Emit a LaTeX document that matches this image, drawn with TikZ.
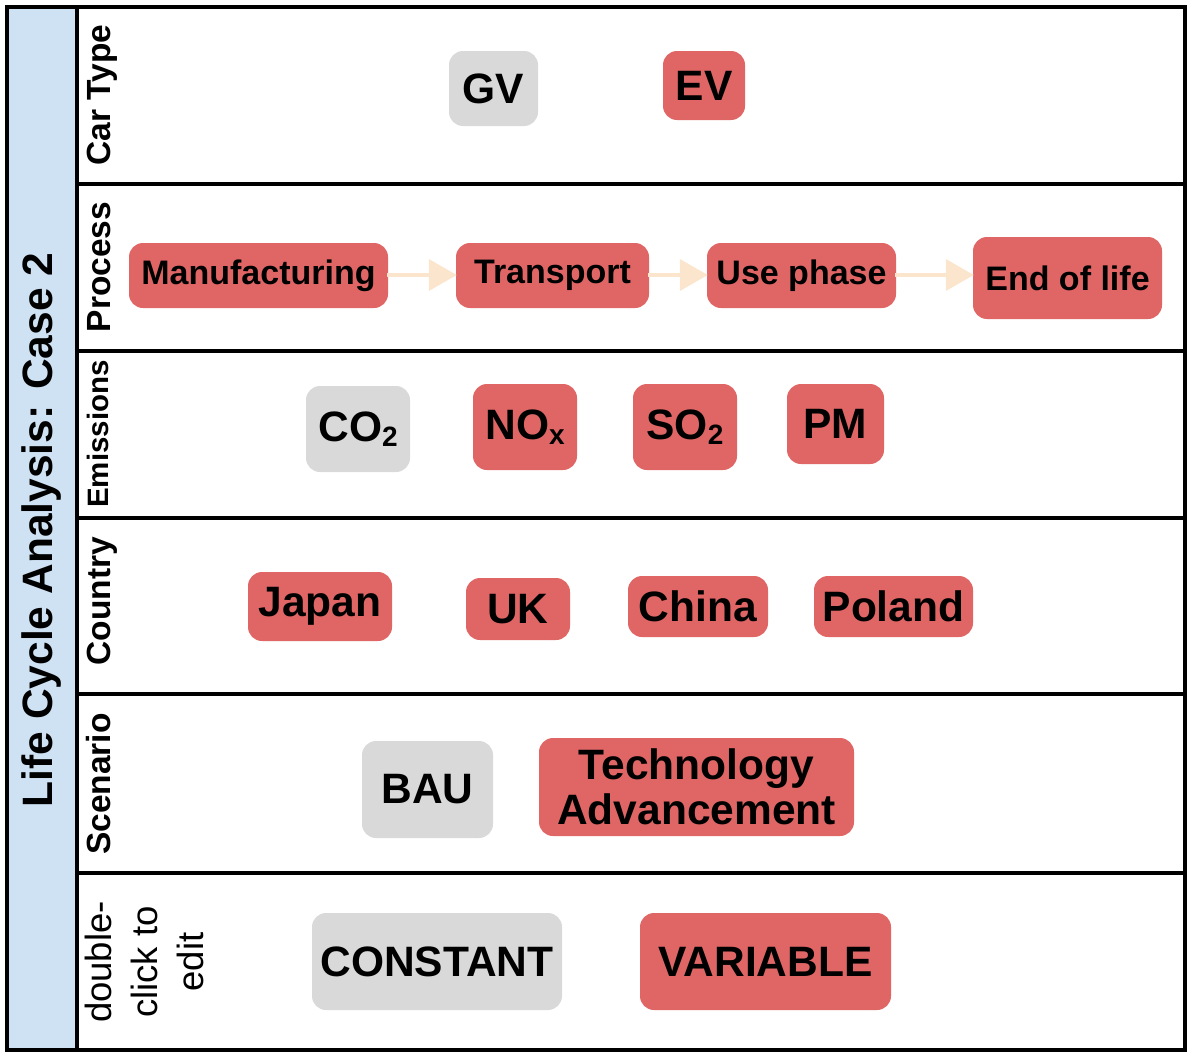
\documentclass[tikz,border=0pt]{standalone}
\usepackage{fontspec}
\setmainfont{Liberation Sans}
\usetikzlibrary{arrows.meta}
\definecolor{boxred}{HTML}{E06666}
\definecolor{boxgray}{HTML}{D9D9D9}
\definecolor{titleblue}{HTML}{CFE2F3}
\definecolor{flowpeach}{HTML}{FCE5CD}
\newcommand{\fs}[2]{\fontsize{#1}{#2}\selectfont}
\newcommand{\sub}[1]{{\fs{28}{28}\raisebox{-5pt}{#1}}}
\tikzset{
  x=1pt, y=-1pt,
  itembox/.style={rounded corners=14pt, inner sep=0pt, align=center},
  bigtext/.style={font=\fs{42.5}{45}\bfseries},
  steptext/.style={font=\fs{34}{34}\bfseries},
  redbox/.style={itembox, fill=boxred},
  graybox/.style={itembox, fill=boxgray},
  lanelabel/.style={rotate=90, anchor=base, inner sep=0pt, font=\fs{33.5}{33.5}\bfseries},
  flow/.style={flowpeach, line width=4pt, -{Triangle[length=28pt,width=31pt]}, shorten <=-1pt, shorten >=-1pt},
}
\newcommand{\itembox}[6]{% style, name, left, right, top, bottom, then the text
  \node[#1, minimum width={#4-#3}, minimum height={#6-#5}] (#2) at ({(#3+#4)/2},{(#5+#6)/2})}
\begin{document}
\begin{tikzpicture}
\useasboundingbox (0,0) rectangle (1187,1052);
% title column
\fill[titleblue] (7,7) rectangle (77,1050);
\node[rotate=90, anchor=base, inner sep=0pt, font=\fs{42.5}{42.5}\bfseries] (title) at (52,530) {Life Cycle Analysis: Case 2};
% lanes
\draw[line width=2pt, black!75] (1185,7) -- (1185,1050);
\draw[line width=4pt] (7,7) rectangle (1185,1050);
\draw[line width=4pt] (77,7) -- (77,1050);
\foreach \yy in {184,351,518,694,873}
  \draw[line width=3.5pt] (77,\yy) -- (1185,\yy);
% lane labels
\node[lanelabel] (lCar) at (110,95) {Car Type};
\node[lanelabel] (lProc) at (110,267) {Process};
\node[lanelabel, font=\fs{29.5}{29.5}\bfseries] (lEmis) at (108,434) {Emissions};
\node[lanelabel] (lCountry) at (110,601) {Country};
\node[lanelabel] (lScen) at (110,784) {Scenario};
\node[rotate=90, inner sep=0pt, align=center, font=\fs{36.5}{46}] (lEdit) at (144,962)
  {double-\\click to\\edit};
% car type
\itembox{graybox,bigtext}{gv}{449}{538}{51}{126} {GV};
\itembox{redbox,bigtext}{ev}{663}{745}{51}{120} {EV};
% process
\itembox{redbox,steptext}{manu}{129}{388}{243}{308} {Manufacturing};
\itembox{redbox,steptext}{trans}{456}{649}{243}{308} {Transport};
\itembox{redbox,steptext}{use}{707}{896}{243}{308} {Use phase};
\itembox{redbox,steptext}{eol}{973}{1162}{237}{319} {End of life};
\draw[flow] (manu.east |- 0,275) -- (trans.west |- 0,275);
\draw[flow] (trans.east |- 0,275) -- (use.west |- 0,275);
\draw[flow] (use.east |- 0,275) -- (eol.west |- 0,275);
% emissions
\itembox{graybox,bigtext}{co2}{306}{410}{386}{472} {CO\sub{2}};
\itembox{redbox,bigtext}{nox}{473}{577}{384}{470} {NO\sub{x}};
\itembox{redbox,bigtext}{so2}{633}{737}{384}{470} {SO\sub{2}};
\itembox{redbox,bigtext}{pm}{787}{884}{384}{464} {PM};
% country
\itembox{redbox,bigtext}{japan}{248}{392}{572}{641} {Japan};
\itembox{redbox,bigtext}{uk}{466}{570}{578}{640} {UK};
\itembox{redbox,bigtext}{china}{628}{768}{576}{637} {China};
\itembox{redbox,bigtext}{poland}{814}{973}{576}{637} {Poland};
% scenario
\itembox{graybox,bigtext}{bau}{362}{493}{741}{838} {BAU};
\itembox{redbox,bigtext}{tech}{539}{854}{738}{836} {Technology\\Advancement};
% bottom lane
\itembox{graybox,bigtext}{const}{312}{562}{913}{1010} {CONSTANT};
\itembox{redbox,bigtext}{var}{640}{891}{913}{1010} {VARIABLE};
\end{tikzpicture}
\end{document}
